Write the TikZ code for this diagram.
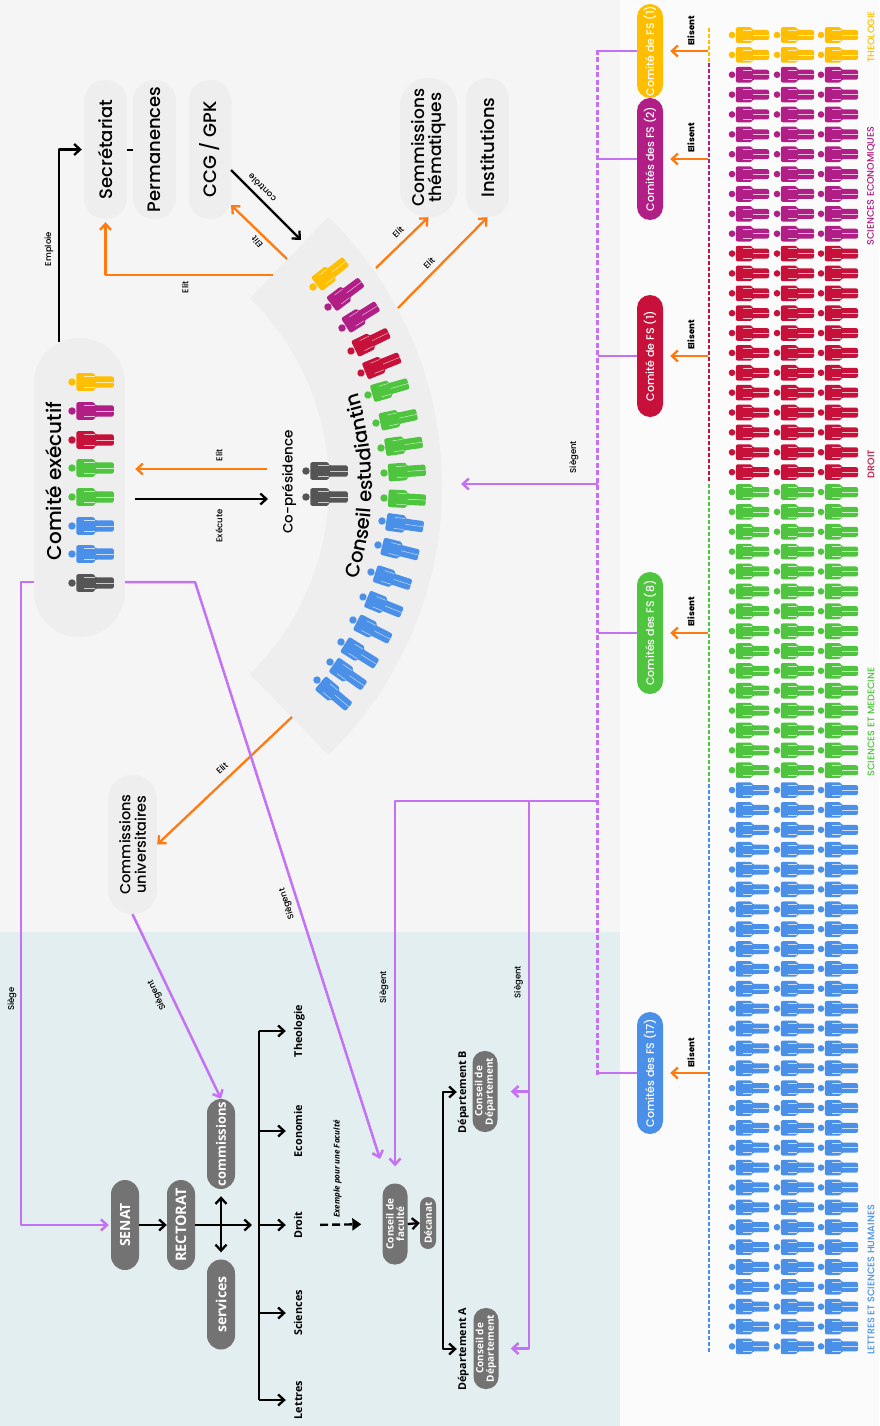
\documentclass[tikz,border=0pt]{standalone}
\usepackage{fontspec}
\usetikzlibrary{arrows.meta,decorations.text}
\setmainfont{Poppins Medium}
\newfontfamily\opensans{Open Sans}
\definecolor{uniyellow}{RGB}{255,191,0}
\definecolor{unipurple}{RGB}{177,30,133}
\definecolor{unired}{RGB}{199,16,58}
\definecolor{unigreen}{RGB}{79,196,63}
\definecolor{uniblue}{RGB}{74,144,232}
\definecolor{unidark}{RGB}{85,85,85}
\definecolor{pillgrey}{RGB}{115,115,115}
\definecolor{bandgrey}{RGB}{238,238,238}
\definecolor{elitorange}{RGB}{255,122,16}
\definecolor{siegeviolet}{RGB}{196,113,245}
\definecolor{pagetop}{RGB}{245,245,245}
\definecolor{pageuni}{RGB}{227,238,240}
\definecolor{pageright}{RGB}{251,251,251}

\begin{document}
\begin{tikzpicture}[x=1pt, y=-1pt, line join=bevel,
                softpill/.style={shape=rectangle, rotate=90, inner sep=0pt, fill=bandgrey, rounded corners=21pt, minimum width=139pt, minimum height=43pt, align=center, font=\fontsize{18}{16.5}\selectfont},
                greypill/.style={shape=rectangle, rotate=90, inner sep=0pt, fill=pillgrey, text=white, rounded corners=14pt, minimum width=90pt, minimum height=28pt, align=center, font=\opensans\bfseries\fontsize{14}{15}\selectfont},
                smallpill/.style={greypill, rounded corners=12pt, minimum width=81pt, minimum height=25pt, font=\opensans\bfseries\fontsize{10}{10.5}\selectfont},
                fspill/.style={shape=rectangle, rotate=90, inner sep=0pt, text=white, rounded corners=13pt, minimum height=26pt, font=\fontsize{11}{12}\selectfont},
                facname/.style={rotate=90, inner sep=0pt, text height=8pt, text depth=2pt, minimum height=14pt, font=\opensans\bfseries\fontsize{10.8}{11}\selectfont},
                verb/.style={rotate=90, inner sep=0pt, font=\fontsize{8.5}{9}\selectfont},
                boldverb/.style={verb, font=\bfseries\fontsize{8.5}{9}\selectfont},
                flow/.style={line width=2.3pt, -{Straight Barb[length=6pt,width=11pt]}},
                elitarrow/.style={flow, elitorange},
                siegearrow/.style={flow, siegeviolet, line width=2.5pt},
                blackarrow/.style={flow, black},
                pics/person/.style={code={
                    \fill[#1] (0,0) circle (3.3);
                    \fill[#1, rounded corners=2] (3.8,-7.8) -- (20,-7.8) -- (20,-5) -- (37,-5) -- (37,5) -- (20,5) -- (20,7.8) -- (3.8,7.8) -- cycle;
                    \draw[white, opacity=.7, line width=.5] (11,-4.9) -- (20,-4.9) (11,4.9) -- (20,4.9) (21,0) -- (37,0);
                }}]
        \useasboundingbox (0,0) rectangle (879,1426);
        % Backgrounds
        \fill[pageright] (0,0) rectangle (879,1426);
        \fill[pagetop] (0,0) rectangle (620,932);
        \fill[pageuni] (0,932) rectangle (620,1426);
        \fill[bandgrey] ([shift={(67,486)}]-45.8:375) arc[start angle=-45.8, end angle=45.8, radius=375] -- ([shift={(67,486)}]45.8:262) arc[start angle=45.8, end angle=-45.8, radius=262] -- cycle;
        \path[decorate, decoration={text along path, text align=center, text={|\fontsize{19.5}{19}\selectfont|Conseil estudiantin}}] ([shift={(67,486)}]19:305) arc[start angle=19, end angle=-19, radius=305];
        % Student body
        \foreach \unicol/\first/\last in {uniyellow/0/1, unipurple/2/10, unired/11/22, unigreen/23/37, uniblue/38/66} {
            \foreach \row in {\first,...,\last} {
                \foreach \hx in {732,777,821} {
                    \pic at (\hx,{35+19.87*\row}) {person=\unicol};
                }
            }
        }
        % Dashes of the vote line
        \foreach \unicol/\ya/\yb/\yc in {uniyellow/28/34/63, unipurple/63/69/243, unired/243/249/478, unigreen/484/490/780, uniblue/784/790/1353} {
            \foreach \dy in {\ya,\yb,...,\yc} {
                \draw[\unicol, line width=1.5pt] (709,\dy) -- ++(0,4);
            }
        }
        \foreach \nm/\yc/\unicol/\txt in {lblTh/37/uniyellow/THEOLOGIE, lblEco/186/unipurple/SCIENCES ECONOMIQUES, lblDr/464/unired/DROIT, lblMed/722/unigreen/SCIENCES ET MEDECINE, lblLet/1280/uniblue/LETTRES ET SCIENCES HUMAINES} {
            \node[rotate=90, inner sep=0pt, text=\unicol, font=\fontsize{9.6}{10}\selectfont] (\nm) at (871,\yc) {\txt};
        }
        % Faculty student committees
        \node[fspill, fill=uniyellow, minimum width=94pt] (fsTheo) at (650,51) {Comité de FS (1)};
        \node[fspill, fill=unipurple, minimum width=122pt] (fsEco) at (650,159) {Comités des FS (2)};
        \node[fspill, fill=unired, minimum width=122pt] (fsDroit) at (650,356) {Comité de FS (1)};
        \node[fspill, fill=unigreen, minimum width=122pt] (fsMed) at (650,633) {Comités des FS (8)};
        \node[fspill, fill=uniblue, minimum width=122pt] (fsLet) at (650,1073) {Comités des FS (17)};
        \coordinate (voteLine) at (708,500);
        \foreach \fs/\ly in {fsTheo/31, fsEco/138, fsDroit/335, fsMed/612, fsLet/1053} {
            \draw[elitarrow, shorten >=7pt] (\fs.south -| voteLine) -- (\fs.south);
            \node[boldverb] at (691,\ly) {Elisent};
        }
        % Violet bus
        \coordinate (busTop) at (597.5,50);
        \coordinate (busFac) at (597.5,801);
        \coordinate (busDep) at (529,801);
        \coordinate (arcRight) at (461,484);
        \foreach \dy in {50,57.5,...,1070} {
            \draw[siegeviolet, line width=2.5pt] (597.5,\dy) -- ++(0,5);
        }
        \foreach \fs in {fsTheo,fsEco,fsDroit,fsMed,fsLet} {
            \draw[siegeviolet, line width=2.5pt] (\fs.north -| busTop) -- (\fs.north);
        }
        \draw[siegearrow] (busTop |- arcRight) -- (arcRight);
        \node[verb] at (574,457) {Siègent};
        % Council of the students
        \node[softpill, rounded corners=45pt, minimum width=299pt, minimum height=91pt] (exec) at (79.5,487.5) {};
        \node[rotate=90, inner sep=0pt, font=\fontsize{20}{20}\selectfont] (execName) at (54,481) {Comité exécutif};
        \foreach \hy/\unicol in {382/uniyellow, 411/unipurple, 440/unired, 468/unigreen, 497/unigreen, 526/uniblue, 554/uniblue, 583/unidark} {
            \pic[scale=1.13] at (72,\hy) {person=\unicol};
        }
        \foreach \hx/\hy/\ang/\unicol in {
            313/287/38/uniyellow, 328/307/37/unipurple, 342/328/32/unipurple, 351/351/26/unired, 361/373/22/unired,
            368/395/16/unigreen, 376/423/12/unigreen, 381/448/8/unigreen, 384/473/4/unigreen, 384/498/-3/unigreen,
            382/521/-8/uniblue, 378/545/-14/uniblue, 371/572/-18/uniblue, 363/597/-22/uniblue, 353/620/-27/uniblue,
            341/642/-32/uniblue, 330/662/-35/uniblue, 317/680/-40/uniblue} {
            \pic[scale=1.13, rotate=\ang] at (\hx,\hy) {person=\unicol};
        }
        \pic[scale=1.13] at (306,471) {person=unidark};
        \pic[scale=1.13] at (306,497) {person=unidark};
        \node[rotate=90, inner sep=0pt, font=\fontsize{13.5}{14}\selectfont] (copres) at (289,482) {Co-présidence};
        % Bodies above the council
        \node[softpill] (secretariat) at (105.5,149.5) {Secrétariat};
        \node[softpill] (permanences) at (154.5,149.5) {Permanences};
        \node[softpill] (ccg) at (210,149.5) {CCG / GPK};
        \node[softpill, minimum height=57pt, rounded corners=28pt, font=\fontsize{17}{16.5}\selectfont] (themes) at (428.5,147.5) {Commissions\\thématiques};
        \node[softpill] (institutions) at (487.5,147.5) {Institutions};
        \node[softpill, minimum width=139pt, minimum height=49pt, rounded corners=24pt, font=\fontsize{14.5}{15.5}\selectfont] (univ) at (132.5,844.5) {Commissions\\universitaires};
        % Arrows around the council
        \coordinate (execTop) at (59,342);
        \coordinate (ccgCorner) at (231,170);
        \coordinate (arcTop) at (301,240);
        \coordinate (arcCcg) at (287,259);
        \coordinate (ccgElit) at (231,205);
        \coordinate (arcSec) at (273,275);
        \coordinate (arcThemes) at (376,268);
        \coordinate (arcInst) at (398,308);
        \coordinate (arcUniv) at (292,717);
        \coordinate (coprElit) at (267,469);
        \coordinate (coprExec) at (268,499);
        \draw[blackarrow, shorten >=2pt] (execTop) |- (secretariat.north);
        \node[verb] at (49,249) {Emploie};
        \draw[line width=2pt] (secretariat.south) -- (permanences.north);
        \draw[blackarrow] (ccgCorner) -- (arcTop);
        \node[verb, rotate=45] at (262,188) {contrôle};
        \draw[elitarrow] (arcCcg) -- (ccgElit);
        \node[verb, rotate=40] at (257,242) {Elit};
        \draw[elitarrow, shorten >=3pt] (arcSec) -| (secretariat.west);
        \node[verb] at (185,287) {Elit};
        \draw[elitarrow] (arcThemes) -- (themes.west);
        \node[verb, rotate=-45] at (398,232) {Elit};
        \draw[elitarrow] (arcInst) -- (institutions.west);
        \node[verb, rotate=-45] at (429,263) {Elit};
        \draw[elitarrow] (arcUniv) -- (univ.south);
        \node[verb, rotate=-48] at (222,768) {Elit};
        \draw[elitarrow, shorten >=10pt] (coprElit) -- (coprElit -| exec.south);
        \node[verb] at (219,455) {Elit};
        \draw[blackarrow, shorten <=10pt] (coprExec -| exec.south) -- (coprExec);
        \node[verb] at (219,526) {Exécute};
        % University
        \node[greypill] (senat) at (125,1225) {SENAT};
        \node[greypill, font=\opensans\bfseries\fontsize{14.5}{15}\selectfont] (rectorat) at (181,1225) {RECTORAT};
        \node[greypill, font=\opensans\bfseries\fontsize{13}{14}\selectfont] (commGrey) at (221,1144) {commissions};
        \node[greypill] (services) at (221,1304.5) {services};
        \foreach \nm/\yc/\txt in {theologie/1031/Theologie, economie/1131/Economie, droit/1225/Droit, sciences/1313/Sciences, lettres/1400/Lettres} {
            \node[facname] (\nm) at (299,\yc) {\txt};
        }
        \coordinate (facBar) at (259,1225);
        \draw[line width=2.3pt] (theologie.north -| facBar) -- (lettres.north -| facBar);
        \foreach \nm in {theologie,economie,droit,sciences,lettres} {
            \draw[blackarrow, shorten >=6pt] (\nm.north -| facBar) -- (\nm.north);
        }
        \draw[blackarrow] (senat.south) -- (rectorat.north);
        \draw[blackarrow, shorten >=7pt] (rectorat.south) -- (rectorat.south -| facBar);
        \draw[blackarrow, {Straight Barb[length=6pt,width=11pt]}-{Straight Barb[length=6pt,width=11pt]}, shorten <=7pt, shorten >=7pt] (commGrey.west) -- (services.east);
        % One faculty as example
        \node[smallpill] (faculty) at (395,1224) {Conseil de\\faculté};
        \node[smallpill, rounded corners=8pt, minimum width=52pt, minimum height=16pt] (decanat) at (428,1223) {Décanat};
        \node[smallpill] (deptB) at (485,1091.5) {Conseil de\\Département};
        \node[smallpill] (deptA) at (486,1348.5) {Conseil de\\Département};
        \node[facname] (labelB) at (463,1092) {Département B};
        \node[facname] (labelA) at (463,1349) {Département A};
        \node[rotate=90, inner sep=0pt, font=\opensans\bfseries\itshape\fontsize{8}{8}\selectfont] (exemple) at (337.5,1169) {Exemple pour une Faculté};
        \draw[line width=2.4pt, dash pattern=on 8pt off 4pt, -{Triangle[length=9pt,width=12pt]}, shorten <=14pt, shorten >=21pt] (droit.south) -- (faculty.north);
        \draw[blackarrow] (faculty.south) -- (decanat.north);
        \coordinate (deptBar) at (443,1220);
        \draw[line width=2.3pt, {Straight Barb[length=6pt,width=11pt]}-{Straight Barb[length=6pt,width=11pt]}, shorten <=-1pt, shorten >=-1pt] (labelA.north) -| (deptBar) |- (labelB.north);
        % Seats
        \coordinate (execLeft) at (34,582);
        \coordinate (execRight) at (125,582);
        \coordinate (execBend) at (195,582);
        \coordinate (facTarget) at (380,1159);
        \draw[siegearrow, shorten >=2pt] (execLeft) -- ++(-13,0) |- (senat.north);
        \node[verb] at (12,999) {Siège};
        \draw[siegearrow] (execRight) -- (execBend) -- (facTarget);
        \node[verb, rotate=18] at (287,904) {Siègent};
        \draw[siegearrow] (univ.west) -- (commGrey.east);
        \node[verb, rotate=25] at (157,995) {Siègent};
        \draw[siegearrow, shorten >=17pt] (busFac) -| (faculty.east);
        \node[verb] at (384,987) {Siègent};
        \draw[siegearrow, shorten >=12pt] (busDep) |- (deptA.south);
        \draw[siegearrow, shorten >=13pt] (busDep |- deptB.south) -- (deptB.south);
        \node[verb] at (518.5,982) {Siègent};
\end{tikzpicture}
\end{document}
